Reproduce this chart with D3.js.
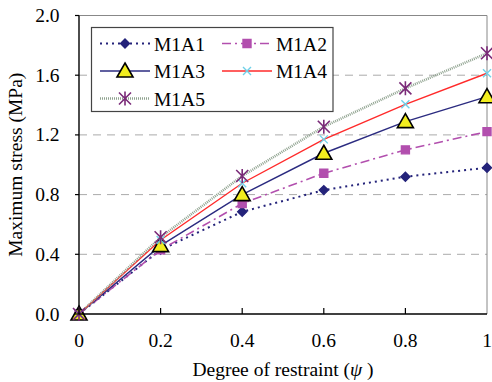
<!DOCTYPE html>
<html>
<head>
<meta charset="utf-8">
<script src="https://cdn.jsdelivr.net/npm/d3@7"></script>
<style>
  body { margin: 0; background: #fff; }
  svg { display: block; font-family: 'Liberation Serif', 'Times New Roman', serif; }
</style>
</head>
<body>
<div id="chart"></div>
<script>
// data
const restraint = [0, 0.2, 0.4, 0.6, 0.8, 1];
const seriesNames = ['M1A1', 'M1A2', 'M1A3', 'M1A4', 'M1A5'];
const m1a1 = [0, 0.43, 0.685, 0.83, 0.92, 0.98];
const m1a2 = [0, 0.43, 0.74, 0.943, 1.10, 1.222];
const m1a3 = [0, 0.458, 0.80, 1.077, 1.289, 1.456];
const m1a4 = [0, 0.496, 0.876, 1.17, 1.405, 1.613];
const m1a5 = [0, 0.514, 0.925, 1.255, 1.512, 1.747];
const xTicks = [0, 0.2, 0.4, 0.6, 0.8, 1];
const xTickLabels = ['0', '0.2', '0.4', '0.6', '0.8', '1'];
const yTicks = [0, 0.4, 0.8, 1.2, 1.6, 2.0];
const yTickLabels = ['0.0', '0.4', '0.8', '1.2', '1.6', '2.0'];

const width = 492, height = 382;
const margin = {top: 15.5, right: 5, bottom: 68, left: 79};

const x = d3.scaleLinear().domain([0, 1]).range([margin.left, width - margin.right]);
const y = d3.scaleLinear().domain([0, 2]).range([height - margin.bottom, margin.top]);

const svg = d3.select('#chart').append('svg')
  .attr('width', width)
  .attr('height', height);

// dashed grid lines
svg.append('g')
  .selectAll('line')
  .data(yTicks.filter(d => d > 0 && d < 2))
  .enter().append('line')
  .attr('x1', x(0)).attr('x2', x(1))
  .attr('y1', d => y(d)).attr('y2', d => y(d))
  .attr('stroke', '#aaa')
  .attr('stroke-width', 1)
  .attr('stroke-dasharray', '8,6');

// top / right frame
svg.append('path')
  .attr('d', 'M' + x(0) + ',' + y(2) + 'H' + x(1) + 'V' + y(0))
  .attr('fill', 'none')
  .attr('stroke', '#888')
  .attr('stroke-width', 1);

// styles per series
const styles = [
  {values: m1a1, color: '#24237a', width: 2, dash: '2,4', marker: 'diamond', mfill: '#24237a', mstroke: '#24237a'},
  {values: m1a2, color: '#b24fae', width: 1.6, dash: '9,4,2,4', marker: 'square', mfill: '#b24fae', mstroke: '#b24fae'},
  {values: m1a3, color: '#2b2b80', width: 1.4, dash: null, marker: 'triangle', mfill: '#f2ee1f', mstroke: '#000'},
  {values: m1a4, color: '#ff2a2a', width: 1.4, dash: null, marker: 'x', mfill: 'none', mstroke: '#6fd0e8'},
  {values: m1a5, color: '#8fa28f', width: 2.6, dash: '1,1', marker: 'asterisk', mfill: 'none', mstroke: '#7a2a78'}
];

function markerPath(type) {
  if (type === 'diamond') return 'M0,-4.5L4.5,0L0,4.5L-4.5,0Z';
  if (type === 'square') return d3.symbol(d3.symbolSquare, 64)();
  if (type === 'triangle') return 'M0,-8L8,6L-8,6Z';
  if (type === 'x') return 'M-4,-4L4,4M-4,4L4,-4';
  return 'M0,-7V7M-6,-6L6,6M-6,6L6,-6';
}

function drawMarker(g, s, cx, cy) {
  g.append('path')
    .attr('d', markerPath(s.marker))
    .attr('transform', 'translate(' + cx + ',' + cy + ')')
    .attr('fill', s.mfill)
    .attr('stroke', s.mstroke)
    .attr('stroke-width', s.marker === 'triangle' ? 1.6 : (s.marker === 'asterisk' ? 1.6 : 1.4));
}

const line = d3.line()
  .x((d, i) => x(restraint[i]))
  .y(d => y(d));

// lines
styles.forEach(s => {
  svg.append('path')
    .attr('d', line(s.values))
    .attr('fill', 'none')
    .attr('stroke', s.color)
    .attr('stroke-width', s.width)
    .attr('stroke-dasharray', s.dash);
});

// markers (later series on top)
styles.forEach(s => {
  const g = svg.append('g');
  s.values.forEach((v, i) => drawMarker(g, s, x(restraint[i]), y(v)));
});

// axes
svg.append('line')
  .attr('x1', x(0)).attr('x2', x(1))
  .attr('y1', y(0)).attr('y2', y(0))
  .attr('stroke', '#000').attr('stroke-width', 1.4);
svg.append('line')
  .attr('x1', x(0)).attr('x2', x(0))
  .attr('y1', y(0)).attr('y2', y(2))
  .attr('stroke', '#000').attr('stroke-width', 1.4);

// x ticks (inward)
svg.append('g').selectAll('line')
  .data(xTicks.slice(1, -1))
  .enter().append('line')
  .attr('x1', d => x(d)).attr('x2', d => x(d))
  .attr('y1', y(0)).attr('y2', y(0) - 6)
  .attr('stroke', '#000').attr('stroke-width', 1.2);

// y ticks (outward)
svg.append('g').selectAll('line')
  .data(yTicks)
  .enter().append('line')
  .attr('x1', x(0) - 4).attr('x2', x(0))
  .attr('y1', d => y(d)).attr('y2', d => y(d))
  .attr('stroke', '#000').attr('stroke-width', 1.2);

svg.append('g').selectAll('text')
  .data(xTicks)
  .enter().append('text')
  .attr('x', d => x(d))
  .attr('y', 347)
  .attr('text-anchor', 'middle')
  .attr('font-size', 19.5)
  .text((d, i) => xTickLabels[i]);

svg.append('g').selectAll('text')
  .data(yTicks)
  .enter().append('text')
  .attr('x', 59.5)
  .attr('y', d => y(d) + 6.5)
  .attr('text-anchor', 'end')
  .attr('font-size', 19.5)
  .text((d, i) => yTickLabels[i]);

// axis titles
const xTitle = svg.append('text')
  .attr('x', x(0.5))
  .attr('y', 376)
  .attr('text-anchor', 'middle')
  .attr('font-size', 19.5);
xTitle.append('tspan').text('Degree of restraint (');
xTitle.append('tspan').attr('font-style', 'italic').text('ψ');
xTitle.append('tspan').text(' )');

svg.append('text')
  .attr('transform', 'translate(22,' + y(1) + ') rotate(-90)')
  .attr('text-anchor', 'middle')
  .attr('font-size', 19.5)
  .text('Maximum stress (MPa)');

// legend
const legend = svg.append('g');
legend.append('rect')
  .attr('x', 91.5).attr('y', 27.5)
  .attr('width', 241.5).attr('height', 84)
  .attr('fill', '#fff')
  .attr('stroke', '#444')
  .attr('stroke-width', 1.2);

const legendPos = [
  {lx: 100, ly: 43.5}, {lx: 222, ly: 43.5},
  {lx: 100, ly: 71}, {lx: 222, ly: 71},
  {lx: 100, ly: 98.5}
];

styles.forEach((s, i) => {
  const p = legendPos[i];
  legend.append('line')
    .attr('x1', p.lx).attr('x2', p.lx + 50)
    .attr('y1', p.ly).attr('y2', p.ly)
    .attr('stroke', s.color)
    .attr('stroke-width', s.width)
    .attr('stroke-dasharray', s.dash);
  drawMarker(legend, s, p.lx + 25, p.ly);
  legend.append('text')
    .attr('x', p.lx + 54)
    .attr('y', p.ly + 7)
    .attr('font-size', 19.5)
    .text(seriesNames[i]);
});
</script>
</body>
</html>
